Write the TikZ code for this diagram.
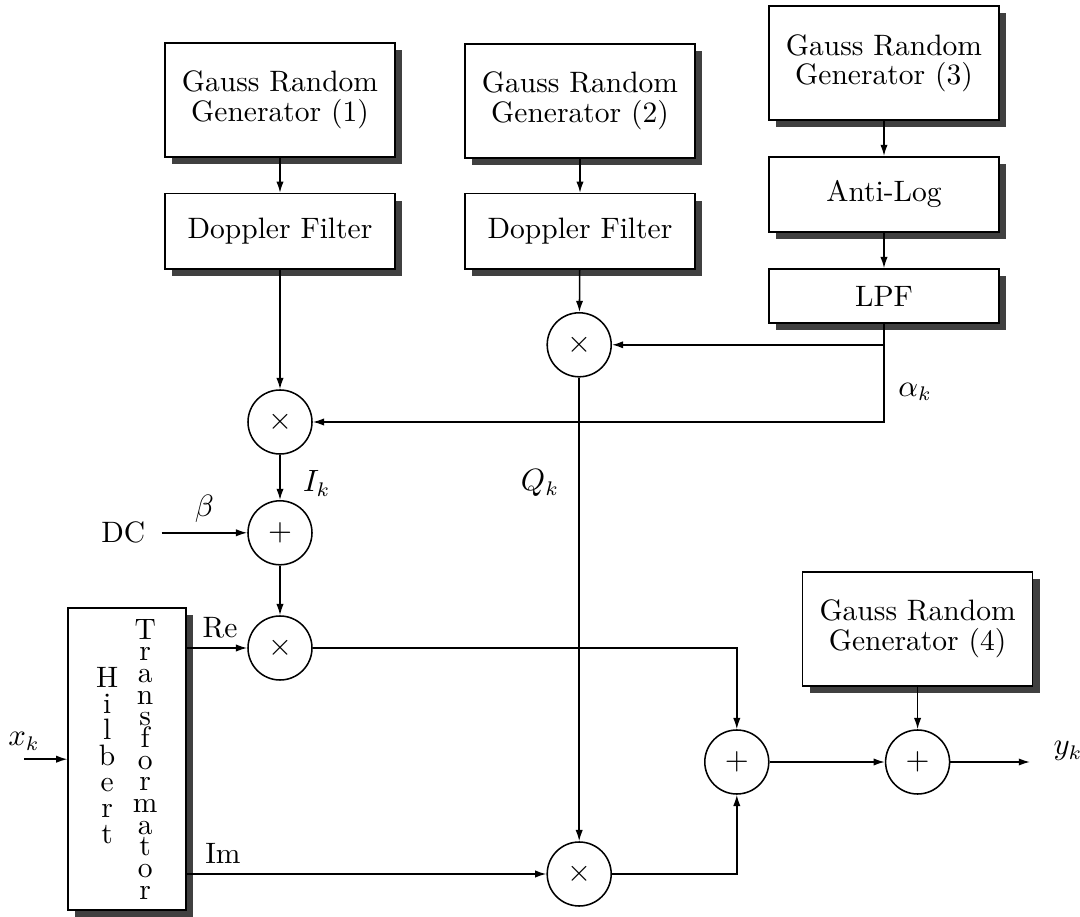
\documentclass[tikz,border=0pt]{standalone}
\usepackage{tikz}
\usetikzlibrary{arrows.meta,positioning,calc,shadows}

\begin{document}
\begin{tikzpicture}[line width=0.55pt, font=\fontsize{10.5}{12}\selectfont,
        blk/.style={rectangle, draw, fill=white, minimum width=2.875cm, minimum height=1.425cm, align=center,
          font=\fontsize{10.5}{10.6}\selectfont,
          drop shadow={shadow xshift=0.09cm, shadow yshift=-0.09cm, opacity=1, fill=black!75}},
        junc/.style={circle, draw, minimum size=0.8cm, inner sep=0pt},
        arrow/.style={-{Latex[length=4pt,width=2.6pt]}}]

      \useasboundingbox (0,0) rectangle (13.5,11.45);

      % generators and filters
      \node[blk] (gen1) at (3.5,10.2) {Gauss Random\\Generator (1)};
      \node[blk, minimum height=0.94cm] (dop1) at (3.5,8.56) {Doppler Filter};
      \node[blk] (gen2) at (7.25,10.19) {Gauss Random\\Generator (2)};
      \node[blk, minimum height=0.94cm] (dop2) at (7.25,8.56) {Doppler Filter};
      \node[blk] (gen3) at (11.05,10.66) {Gauss Random\\Generator (3)};
      \node[blk, minimum height=0.94cm] (alog) at (11.05,9.02) {Anti-Log};
      \node[blk, minimum height=0.675cm] (lpf) at (11.05,7.75) {LPF};
      \node[blk] (gen4) at (11.47,3.59) {Gauss Random\\Generator (4)};
      \node[blk, minimum width=1.475cm, minimum height=3.775cm] (hil) at (1.59,1.96) {};
      \node[font=\fontsize{10.5}{9.25}\selectfont, align=center] (hilA) at (1.34,2.0) {H\\i\\l\\b\\e\\r\\t};
      \node[font=\fontsize{10.5}{7.7}\selectfont, align=center] (hilB) at (1.815,1.96) {T\\r\\a\\n\\s\\f\\o\\r\\m\\a\\t\\o\\r};

      % multipliers and adders
      \node[junc] (mul1) at (3.5,6.175) {$\times$};
      \node[junc] (add1) at (3.5,4.79) {$+$};
      \node[junc] (mul3) at (3.5,3.35) {$\times$};
      \node[junc] (mul2) at (7.24,7.14) {$\times$};
      \node[junc] (mul4) at (7.24,0.525) {$\times$};
      \node[junc] (add2) at (9.21,1.925) {$+$};
      \node[junc] (add3) at (11.47,1.925) {$+$};

      \node (dc) at (1.54,4.79) {DC};
      \coordinate (xin) at (0.3,1.96);
      \coordinate (yout) at (12.875,1.925);
      \node (xk) at (0.3,2.18) {$x_k$};
      \node (yk) at (13.35,2.06) {$y_k$};
      \node (alpha) at (11.44,6.55) {$\alpha_k$};
      \node (ik) at (3.96,5.41) {$I_k$};
      \node (qk) at (6.75,5.41) {$Q_k$};

      \draw[arrow] (gen1) -- (dop1);
      \draw[arrow] (gen2) -- (dop2);
      \draw[arrow] (gen3) -- (alog);
      \draw[arrow] (alog) -- (lpf);
      \draw[arrow] (gen4) -- (add3);
      \draw[arrow] (dop1) -- (mul1);
      \draw[arrow] (dop2) -- (mul2);
      \draw[arrow] (lpf) |- (mul2);
      \draw[arrow] (lpf) |- (mul1);
      \draw[arrow] (mul1) -- (add1);
      \draw[arrow] ([xshift=0.08cm]dc.east) -- node[above] (beta) {$\beta$} (add1);
      \draw[arrow] (add1) -- (mul3);
      \draw[arrow] (mul2) -- (mul4);
      \draw[arrow] (xin) -- (hil);
      \draw[arrow] (hil.east |- mul3) -- node[above, pos=0.55] (re) {Re} (mul3);
      \draw[arrow] (hil.east |- mul4) -- node[above, pos=0.1] (im) {Im} (mul4);
      \draw[arrow] (mul3) -| (add2);
      \draw[arrow] (mul4) -| (add2);
      \draw[arrow] (add2) -- (add3);
      \draw[arrow] (add3) -- (yout);
    \end{tikzpicture}
\end{document}
